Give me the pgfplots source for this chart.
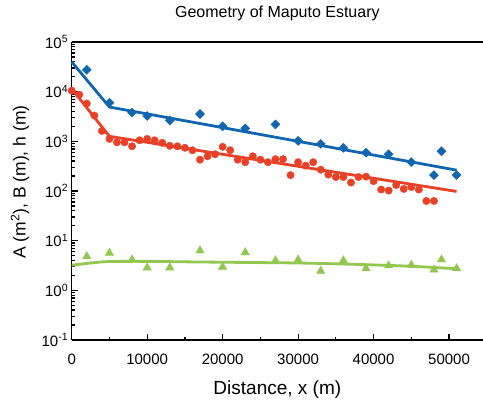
\documentclass[border=0pt]{standalone}
\usepackage{pgfplots}
\pgfplotsset{compat=1.18}
\usepackage{fontspec}
\setmainfont{Liberation Sans}
\definecolor{cblue}{RGB}{16,103,176}
\definecolor{cred}{RGB}{233,65,40}
\definecolor{cgreen}{RGB}{146,200,80}
\begin{document}
\begin{tikzpicture}[x=1pt,y=1pt]
\path[use as bounding box] (0,0) rectangle (483,400);
\begin{axis}[at={(71.7pt,60pt)}, anchor=south west, scale only axis,
  width=411.3pt, height=298pt,
  xmin=0, xmax=54500, ymode=log, ymin=0.1, ymax=100000,
  axis x line*=box, axis y line*=left,
  axis line style={line width=1.3pt, black},
  xtick={0,10000,20000,30000,40000,50000},
  minor x tick num=1,
  ytick={0.1,1,10,100,1000,10000,100000},
  yticklabels={10\textsuperscript{-1},10\textsuperscript{0},10\textsuperscript{1},10\textsuperscript{2},10\textsuperscript{3},10\textsuperscript{4},10\textsuperscript{5}},
  xtick pos=bottom, ytick pos=left, tick align=inside,
  major tick length=6pt, minor tick length=3.5pt,
  every tick/.style={black, line width=1.2pt},
  scaled x ticks=false,
  /pgf/number format/.cd, 1000 sep={}, assume math mode=true, /pgfplots/.cd,
  ticklabel style={font=\fontsize{15}{18}\selectfont},
  xticklabel style={anchor=base, yshift=-24.4pt},
  title={Geometry of Maputo Estuary},
  title style={font=\fontsize{16}{19}\selectfont, at={(axis description cs:0.5,1)}, anchor=base, yshift=19pt},
  xlabel={Distance, x (m)},
  xlabel style={font=\fontsize{19}{22}\selectfont, at={(axis description cs:0.5,0)}, anchor=base, yshift=-54pt},
  ylabel={A (m\textsuperscript{2}), B (m), h (m)},
  ylabel style={font=\fontsize{17.5}{21}\selectfont, at={(axis description cs:-0.1257,0.53)}, anchor=center},
  clip=false,
]
% B (width) observations
\addplot[only marks, mark=*, mark size=3.7pt, color=cred] coordinates {
(0,10500)(1000,8700)(2000,5750)(3000,3300)(4000,1620)(5000,1120)(6000,955)(7000,955)
(8000,795)(9000,1050)(10000,1120)(11000,1050)(12000,933)(13000,813)(14000,795)(15000,741)
(16000,661)(17000,427)(18000,501)(19000,550)(20000,776)(21000,661)(22000,427)(23000,380)
(24000,501)(25000,427)(26000,380)(27000,437)(28000,437)(29000,209)(30000,380)(31000,324)
(32000,380)(33000,269)(34000,214)(35000,191)(36000,191)(37000,148)(38000,191)(39000,195)
(40000,158)(41000,107)(42000,102)(43000,132)(44000,110)(45000,120)(46000,107)(47000,63)(48000,63)
};
\addplot[color=cred, line width=2.8pt] coordinates {(0,11500)(5000,1260)(51000,98)};
% A (area) observations
\addplot[only marks, mark=square*, mark size=3.2pt, mark options={rotate=45}, color=cblue] coordinates {
(2000,27500)(5000,6000)(8000,3800)(10000,3240)(13000,2630)(17000,3550)(20000,2000)(23000,1820)
(27000,2190)(30000,1020)(33000,890)(36000,740)(39000,590)(42000,550)(45000,380)(48000,209)
(49000,630)(51000,209)
};
\addplot[color=cblue, line width=2.8pt] coordinates {(0,39800)(5000,4900)(51000,263)};
% h (depth) observations
\addplot[only marks, mark=triangle*, mark size=4.8pt, color=cgreen] coordinates {
(2000,4.83)(5000,5.65)(8000,4.15)(10000,2.86)(13000,2.86)(17000,6.3)(20000,2.96)(23000,5.8)
(27000,4.0)(30000,4.15)(33000,2.46)(36000,4.0)(39000,2.77)(42000,3.15)(45000,3.24)(48000,2.6)
(49000,4.15)(51000,2.77)
};
\addplot[color=cgreen, line width=2.8pt, smooth] coordinates {
(0,3.2)(2500,3.55)(5000,3.8)(10000,3.83)(15000,3.75)(20000,3.68)(25000,3.62)(30000,3.55)
(35000,3.42)(40000,3.25)(45000,3.05)(51000,2.72)
};
\end{axis}
\end{tikzpicture}
\end{document}
